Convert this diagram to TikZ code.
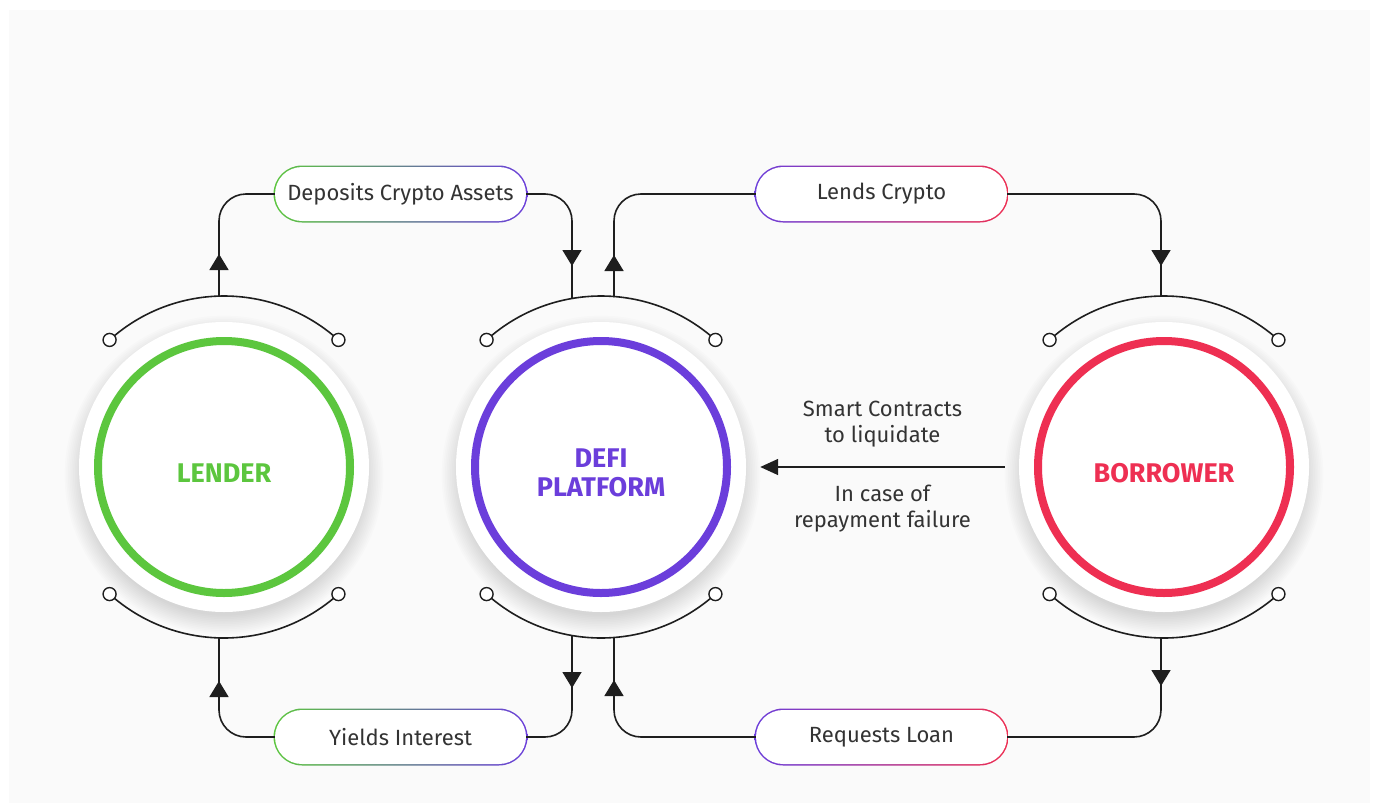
\documentclass[tikz,border=0pt]{standalone}
\usepackage{fontspec}
\setmainfont{Fira Sans}
\usepackage{xcolor}
\definecolor{cGreen}{HTML}{5CC63E}
\definecolor{cPurple}{HTML}{6B3EDB}
\definecolor{cRed}{HTML}{EE2F52}
\definecolor{cInk}{HTML}{1E1E1E}
\definecolor{cText}{HTML}{333333}
\definecolor{cPanel}{HTML}{FAFAFA}
\usetikzlibrary{positioning,arrows.meta,calc,shapes.misc,decorations.markings}
\tikzset{
  node-disk/.style={circle,fill=white,minimum size=290pt,inner sep=0pt},
  node-ring/.style={circle,line width=8pt,minimum size=252pt,inner sep=0pt},
  node-title/.style={align=center,font=\fontsize{27}{29}\selectfont\bfseries,yshift=-6pt},
  node-rim/.style={rounded rectangle,minimum width=254pt,minimum height=57pt,inner sep=0pt},
  node-pill/.style={rounded rectangle,fill=white,minimum width=251pt,minimum height=54pt,
    inner sep=0pt,text=cText,font=\fontsize{22}{26}\selectfont},
  node-note/.style={align=center,inner sep=0pt,text=cText,font=\fontsize{22}{26}\selectfont},
  hook/.style={draw=cInk,line width=1.6pt},
  port/.style={draw=cInk,line width=1.4pt,fill=white},
  link/.style={draw=cInk,line width=1.6pt,rounded corners=27pt},
  tip-at/.style={postaction={decorate},decoration={markings,
      mark=at position #1 with {\arrow{Triangle[length=16pt,width=19pt]}}}},
}

\begin{document}
\begin{tikzpicture}[x=1pt,y=-1pt]
  \useasboundingbox (0,0) rectangle (1376,803);
  \fill[white] (0,0) rectangle (1376,803);
  \fill[cPanel] (9,10) rectangle (1370,803);
  % soft shadows under the discs
  \foreach \x in {224,601,1164}
    \foreach \k in {1,...,12}
      \fill[black,opacity=0.012] (\x,475) circle[radius={139+1.7*\k}];
  \node[node-disk] (lenDisk) at (224,467)  {};
  \node[node-disk] (defDisk) at (601,467)  {};
  \node[node-disk] (borDisk) at (1164,467) {};
  \node[node-ring,draw=cGreen,
    label={[node-title,text=cGreen]center:LENDER}]          (lender)   at (lenDisk) {};
  \node[node-ring,draw=cPurple,
    label={[node-title,text=cPurple]center:DEFI\\PLATFORM}] (defi)     at (defDisk) {};
  \node[node-ring,draw=cRed,
    label={[node-title,text=cRed]center:BORROWER}]          (borrower) at (borDisk) {};
  % arcs with end ports
  \foreach \c in {lender,defi,borrower}{
    \draw[hook] ($(\c)+(228:171)$) arc[start angle=228,end angle=312,radius=171];
    \draw[hook] ($(\c)+(132:171)$) arc[start angle=132,end angle=48,radius=171];
    \foreach \a in {228,312,132,48}
      \draw[port] ($(\c)+(\a:171)$) circle[radius=6.5pt];
  }
  \coordinate (lenT)  at (219,296);
  \coordinate (lenB)  at (219,638);
  \coordinate (defTL) at (572,298);
  \coordinate (defTR) at (614,297);
  \coordinate (defBL) at (572,636);
  \coordinate (defBR) at (614,637);
  \coordinate (borT)  at (1161,296);
  \coordinate (borB)  at (1161,638);
  % pills
  \node[node-rim,left color=cGreen,right color=cPurple] (depRim) at (400.5,194) {};
  \node[node-pill] (dep) at (depRim) {Deposits Crypto Assets};
  \node[node-rim,left color=cPurple,right color=cRed]   (lndRim) at (881.5,194) {};
  \node[node-pill] (lnd) at (lndRim) {Lends Crypto};
  \node[node-rim,left color=cGreen,right color=cPurple] (yldRim) at (400.5,737) {};
  \node[node-pill] (yld) at (yldRim) {Yields Interest};
  \node[node-rim,left color=cPurple,right color=cRed]   (reqRim) at (881.5,737) {};
  \node[node-pill] (req) at (reqRim) {Requests Loan};
  % flows
  \draw[link,tip-at=42pt]  (lenT)  |- (dep);
  \draw[link,tip-at=-32pt] (dep)   -| (defTL);
  \draw[link,tip-at=42pt]  (defTR) |- (lnd);
  \draw[link,tip-at=-30pt] (lnd)   -| (borT);
  \draw[link,tip-at=48pt]  (borB)  |- (req);
  \draw[link,tip-at=-43pt] (req)   -| (defBR);
  \draw[link,tip-at=52pt]  (defBL) |- (yld);
  \draw[link,tip-at=-43pt] (yld)   -| (lenB);
  \draw[link,-{Triangle[length=18pt,width=16pt]},shorten <=14pt,shorten >=14pt]
    (borDisk) -- (defDisk) coordinate[midway] (liq);
  \node[node-note,above=20pt of liq] (smart) {Smart Contracts\\to liquidate};
  \node[node-note,below=18pt of liq] (fail)  {In case of\\repayment failure};
\end{tikzpicture}
\end{document}
